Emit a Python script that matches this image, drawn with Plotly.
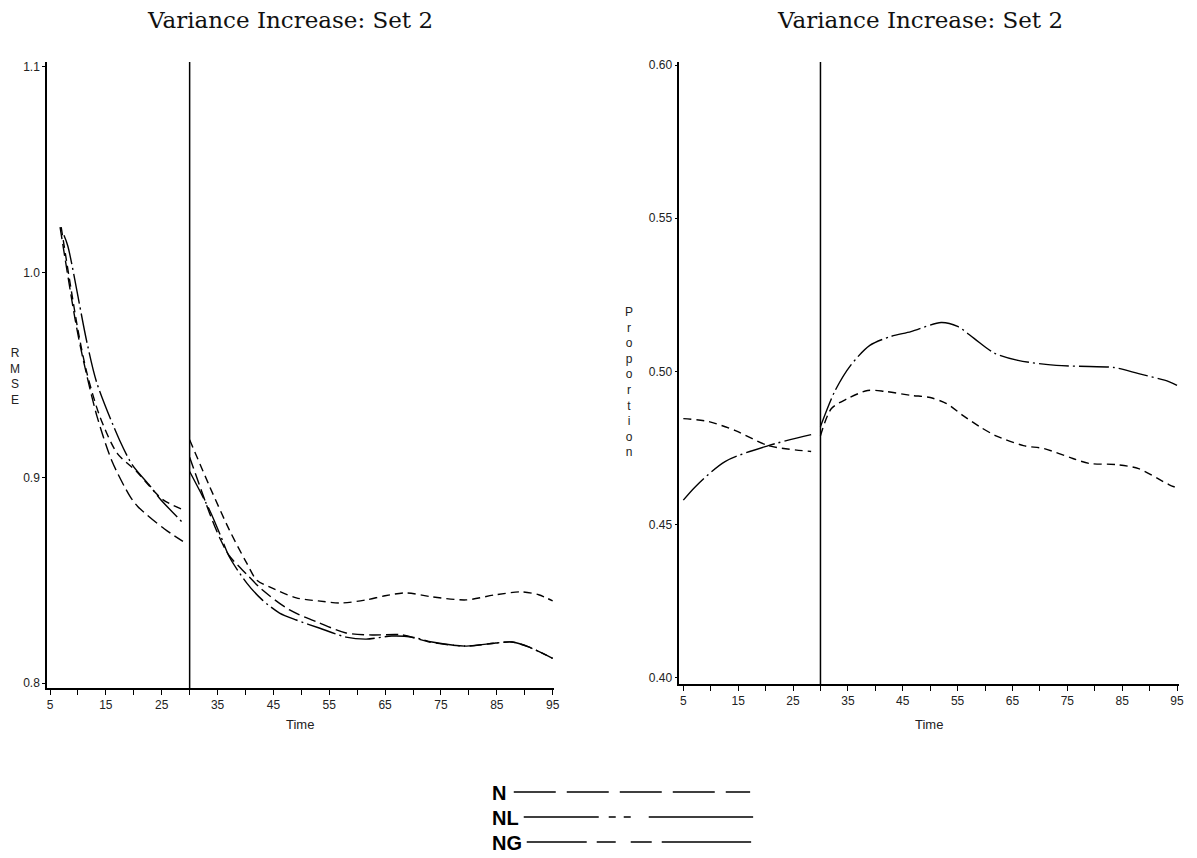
import plotly.graph_objects as go

# ---------------- data ----------------
CHANGE_POINT = 30
TITLE = "Variance Increase: Set 2"

# RMSE panel, before the change point
rmse_N_pre_t = [6.8, 9.5, 10.9, 13.4, 16.1, 19.3, 20.7, 25.5, 28.8]
rmse_N_pre_v = [1.022, 0.977, 0.958, 0.930, 0.908, 0.891, 0.886, 0.875, 0.869]
rmse_NL_pre_t = [7.5, 8.2, 11.6, 13.4, 17.5, 19.8, 22.9, 24.6, 28.8]
rmse_NL_pre_v = [1.018, 1.0127, 0.966, 0.946, 0.918, 0.906, 0.896, 0.890, 0.878]
rmse_NG_pre_t = [7.0, 10.0, 11.6, 13.9, 17.0, 20.5, 22.9, 25.2, 28.8]
rmse_NG_pre_v = [1.022, 0.972, 0.951, 0.930, 0.912, 0.903, 0.8956, 0.8893, 0.8844]

# RMSE panel, after the change point
rmse_N_post_t = [30, 33.6, 35.5, 37.1, 40.2, 43, 47.9, 53.2, 58, 62.7, 68, 72.9, 79.5, 84.8, 87.7, 90.7, 95]
rmse_N_post_v = [0.910, 0.8825, 0.870, 0.862, 0.853, 0.8454, 0.8356, 0.8293, 0.8244, 0.8234, 0.8235, 0.8200,
                 0.8180, 0.8195, 0.8200, 0.8176, 0.8120]
rmse_NL_post_t = [30, 33.6, 35.5, 37.1, 40.2, 43, 46.1, 49.1, 53.2, 58, 61.6, 66.2, 69.8, 73.4, 79.5, 84.8,
                  87.7, 90.7, 95]
rmse_NL_post_v = [0.903, 0.884, 0.872, 0.8615, 0.8488, 0.8405, 0.8341, 0.8307, 0.8268, 0.8224, 0.8214, 0.8229,
                  0.8224, 0.8200, 0.8180, 0.8195, 0.8200, 0.8176, 0.8120]
rmse_NG_post_t = [30, 33.6, 37.1, 40.2, 42, 44.3, 49.1, 53, 57.3, 61.6, 65, 68.75, 73.4, 79.5, 84.8, 89.5, 92.5, 95]
rmse_NG_post_v = [0.9185, 0.8956, 0.8746, 0.8585, 0.8502, 0.8468, 0.8415, 0.8400, 0.8390, 0.8405, 0.8425, 0.8439,
                  0.8420, 0.8405, 0.8430, 0.8444, 0.8430, 0.8400]

# Proportion panel
prop_NL_pre_t = [5, 7.2, 12.6, 20.5, 28.3]
prop_NL_pre_v = [0.458, 0.4624, 0.4706, 0.4758, 0.4794]
prop_NG_pre_t = [5, 9.5, 14.5, 20.5, 28.3]
prop_NG_pre_v = [0.4846, 0.4837, 0.4807, 0.4758, 0.4739]

prop_NL_post_t = [30, 32.6, 35.5, 39, 42.8, 46.5, 52, 55, 58, 61.7, 66, 73, 79, 83.5, 88, 93.5, 95]
prop_NL_post_v = [0.482, 0.4935, 0.502, 0.5085, 0.5114, 0.513, 0.516, 0.5147, 0.5108, 0.506, 0.5036, 0.502,
                  0.5016, 0.5013, 0.4993, 0.4967, 0.4955]
prop_NG_post_t = [30, 32, 35, 38.6, 41.7, 46.5, 50, 53, 56, 59, 62, 67, 70.8, 76, 79, 84, 88, 93.5, 95]
prop_NG_post_v = [0.479, 0.4879, 0.4912, 0.4938, 0.4935, 0.4922, 0.4915, 0.4895, 0.4856, 0.482, 0.479, 0.4758,
                  0.4748, 0.4716, 0.4700, 0.4696, 0.4683, 0.4631, 0.4620]

SERIES = ["N", "NL", "NG"]

# ---------------- styling ----------------
PLOT_DASH = {"N": "12px,5px", "NL": "30px,4px,2px,4px", "NG": "8px,5px"}
LEGEND_DASH = {"N": "42px,11px",
               "NL": "75px,10px,7px,8px,7px,18px,105px",
               "NG": "60px,10px,19px,15px,21px,10px,90px"}

PAGE_OFF = 8                      # default body margin of the html page
W, H = 1197 - PAGE_OFF, 858 - PAGE_OFF
ML, MR, MT, MB = 47 - PAGE_OFF, 15, 62 - PAGE_OFF, 170
PW, PH = W - ML - MR, H - MT - MB


def px_x(px):
    """page pixel -> paper x"""
    return (px - PAGE_OFF - ML) / PW


def px_y(py):
    """page pixel -> paper y"""
    return (H - MB - (py - PAGE_OFF)) / PH


fig = go.Figure()


def joined(t_pre, v_pre, t_post, v_post):
    return list(t_pre) + [None] + list(t_post), list(v_pre) + [None] + list(v_post)


panels = {
    ("x", "y"): {
        "N": (rmse_N_pre_t, rmse_N_pre_v, rmse_N_post_t, rmse_N_post_v),
        "NL": (rmse_NL_pre_t, rmse_NL_pre_v, rmse_NL_post_t, rmse_NL_post_v),
        "NG": (rmse_NG_pre_t, rmse_NG_pre_v, rmse_NG_post_t, rmse_NG_post_v),
    },
    ("x2", "y2"): {
        "NL": (prop_NL_pre_t, prop_NL_pre_v, prop_NL_post_t, prop_NL_post_v),
        "NG": (prop_NG_pre_t, prop_NG_pre_v, prop_NG_post_t, prop_NG_post_v),
    },
}

for (xa, ya), series in panels.items():
    for name, (tp, vp, tq, vq) in series.items():
        xs, ys = joined(tp, vp, tq, vq)
        fig.add_trace(go.Scatter(
            x=xs, y=ys, mode="lines", name=name, showlegend=False,
            xaxis=xa, yaxis=ya, connectgaps=False,
            line=dict(color="black", width=1.4, dash=PLOT_DASH[name], shape="spline", smoothing=0.8),
        ))

tick_font = dict(family="Liberation Sans, Arial, sans-serif", size=12, color="#222")

xcommon = dict(
    showline=True, linecolor="black", linewidth=1.5, showgrid=False, zeroline=False,
    tick0=5, dtick=10, ticks="outside", ticklen=5, tickwidth=1.2, tickcolor="black",
    tickfont=tick_font,
    minor=dict(tick0=5, dtick=5, ticks="outside", ticklen=5, tickwidth=1.2, tickcolor="black", showgrid=False),
)
ycommon = dict(
    showline=True, linecolor="black", linewidth=1.5, showgrid=False, zeroline=False,
    ticks="outside", ticklen=3, tickwidth=1.2, tickcolor="black", tickfont=tick_font,
)

left_dom = [0, px_x(555)]
right_dom = [px_x(681), 1]

fig.update_layout(
    width=W, height=H, margin=dict(l=ML, r=MR, t=MT, b=MB),
    paper_bgcolor="white", plot_bgcolor="white", showlegend=False,
    xaxis=dict(domain=left_dom, range=[4.46, 95.18], anchor="y", **xcommon),
    yaxis=dict(domain=[0, 1], range=[0.7976, 1.1024], anchor="x", tickvals=[0.8, 0.9, 1.0, 1.1],
               tickformat=".1f", **ycommon),
    xaxis2=dict(domain=right_dom, range=[4.27, 95.36], anchor="y2", **xcommon),
    yaxis2=dict(domain=[px_y(684), 1], range=[0.398, 0.601], anchor="x2",
                tickvals=[0.40, 0.45, 0.50, 0.55, 0.60], tickformat=".2f", **ycommon),
)

# change-point reference lines
for xr, yr in [("x", "y domain"), ("x2", "y2 domain")]:
    fig.add_shape(type="line", xref=xr, yref=yr, x0=CHANGE_POINT, x1=CHANGE_POINT, y0=0, y1=1,
                  line=dict(color="black", width=1.5))

ann = []
title_font = dict(family="DejaVu Serif, serif", size=23, color="#111")
for cx_px in (291, 922):
    ann.append(dict(text=TITLE, x=px_x(cx_px), y=px_y(20), xref="paper", yref="paper",
                    showarrow=False, font=title_font, xanchor="center", yanchor="middle"))
for dom in (left_dom, right_dom):
    cx = (dom[0] + dom[1]) / 2
    ann.append(dict(text="Time", x=cx, y=px_y(724), xref="paper", yref="paper",
                    showarrow=False, font=dict(family="Liberation Sans, Arial, sans-serif", size=13, color="#222"),
                    xanchor="center", yanchor="middle"))

label_font = dict(family="Liberation Sans, Arial, sans-serif", size=12, color="#222")
ann.append(dict(text="<br>".join("RMSE"), x=px_x(15), y=px_y(376), xref="paper", yref="paper",
                showarrow=False, font=label_font, xanchor="center", yanchor="middle"))
ann.append(dict(text="<br>".join("Proportion"), x=px_x(631), y=px_y(382), xref="paper", yref="paper",
                showarrow=False, font=label_font, xanchor="center", yanchor="middle"))

# custom legend
legend_rows = {"N": (792, 515, 752), "NL": (817, 525, 755), "NG": (842, 528, 753)}
for name in SERIES:
    yrow, x0, x1 = legend_rows[name]
    ann.append(dict(text="<b>%s</b>" % name, x=px_x(491), y=px_y(yrow + 1), xref="paper", yref="paper",
                    showarrow=False, xanchor="left", yanchor="middle",
                    font=dict(family="Liberation Sans, Arial, sans-serif", size=20, color="black")))
    fig.add_shape(type="line", xref="paper", yref="paper", x0=px_x(x0), x1=px_x(x1),
                  y0=px_y(yrow), y1=px_y(yrow), line=dict(color="black", width=1.6, dash=LEGEND_DASH[name]))

fig.update_layout(annotations=ann)
fig.write_html("out.html")
